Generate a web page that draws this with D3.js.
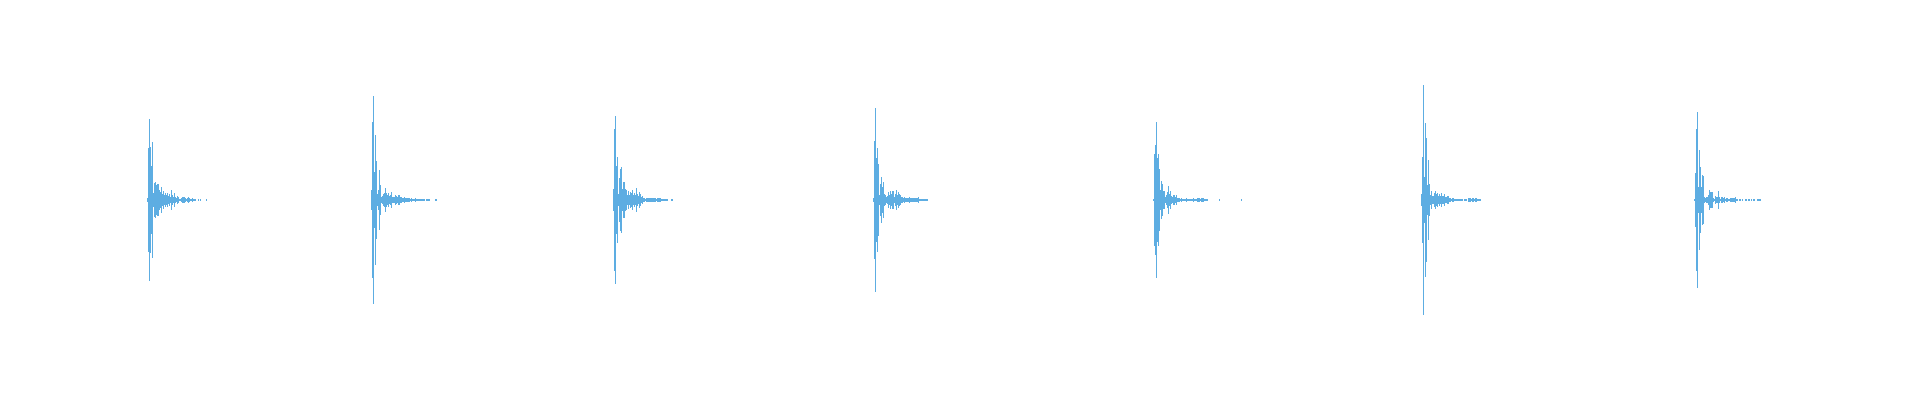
<!DOCTYPE html>
<html>
<head>
<meta charset="utf-8">
<script src="https://cdn.jsdelivr.net/npm/d3@7"></script>
<style>
  body { margin: 0; background: #fff; }
  svg { display: block; }
</style>
</head>
<body>
<div id="chart"></div>
<script>
// waveform peaks, one value per 10 ms bin, normalised to full scale (1.0)
var binSize = 0.01; // seconds
var duration = 19.2; // seconds

// onset time (s) of each hit
var onsets = [1.47, 3.71, 6.13, 8.73, 11.53, 14.21, 16.94];

var peaks1 = [0.009, 0.258, 0.405, 0.265, 0.170, 0.290, 0.035, 0.085, 0.090, 0.075, 0.080, 0.080, 0.050, 0.040, 0.065,
  0.030, 0.045, 0.025, 0.035, 0.023, 0.035, 0.018, 0.030, 0.015, 0.050, 0.023, 0.017, 0.033, 0.013, 0.010, 0.020, 0.017,
  0.007, 0.006, 0.010, 0.013, 0.014, 0.014, 0.010, 0.007, 0.010, 0.014, 0.010, 0.005, 0.003, 0.010, 0.003, 0.003, 0.003,
  0, 0, 0.003, 0, 0.003, 0, 0, 0, 0, 0, 0.003];

var peaks2 = [0.050, 0.390, 0.520, 0.140, 0.325, 0.195, 0.030, 0.050, 0.150, 0.075, 0.015, 0.020, 0.030, 0.035, 0.060,
  0.035, 0.025, 0.035, 0.020, 0.025, 0.040, 0.015, 0.015, 0.015, 0.025, 0.020, 0.015, 0.025, 0.025, 0.015, 0.015,
  0.010, 0.010, 0.015, 0.010, 0.010, 0.008, 0.010, 0.008, 0.005, 0.008, 0.005, 0.005, 0.005, 0.008, 0.005, 0.005, 0.003,
  0.005, 0.003, 0.003, 0.003, 0.003, 0.003, 0, 0.003, 0.003, 0.003, 0.003, 0, 0, 0, 0, 0, 0.003, 0.003];

var peaks3 = [0.055, 0.355, 0.420, 0.170, 0.215, 0.030, 0.110, 0.155, 0.165, 0.055, 0.090, 0.090, 0.055, 0.050, 0.025,
  0.045, 0.025, 0.040, 0.035, 0.050, 0.025, 0.035, 0.025, 0.060, 0.030, 0.020, 0.040, 0.030, 0.015, 0.020, 0.010,
  0.008, 0.005, 0.008, 0.010, 0.012, 0.010, 0.012, 0.010, 0.008, 0.012, 0.010, 0.012, 0.005, 0.008, 0.010, 0.008, 0.008,
  0.003, 0.003, 0.003, 0.003, 0.003, 0.003, 0.003, 0, 0, 0, 0.003, 0.003];

var peaks4 = [0.010, 0.295, 0.460, 0.210, 0.260, 0.180, 0.025, 0.080, 0.115, 0.065, 0.090, 0.030, 0.025, 0.015, 0.020,
  0.040, 0.025, 0.045, 0.030, 0.045, 0.045, 0.015, 0.030, 0.050, 0.025, 0.040, 0.030, 0.025, 0.015, 0.015, 0.010, 0.015,
  0.010, 0.008, 0.012, 0.010, 0.015, 0.010, 0.008, 0.012, 0.010, 0.008, 0.012, 0.010, 0.008, 0.015, 0.005, 0.005, 0.003,
  0.003, 0.003, 0.003, 0.003, 0.003, 0.003];

var peaks5 = [0.005, 0.230, 0.275, 0.390, 0.210, 0.230, 0.155, 0.050, 0.095, 0.080, 0.045, 0.045, 0.015, 0.025, 0.040,
  0.070, 0.030, 0.045, 0.020, 0.015, 0.025, 0.025, 0.015, 0.025, 0.010, 0.010, 0.010, 0.005, 0.010, 0.005,
  0.003, 0.003, 0.005, 0.010, 0.003, 0.005, 0.005, 0.005, 0.003, 0.003, 0.008, 0.003, 0.003, 0.003, 0.010, 0.012, 0.010,
  0.005, 0.010, 0.008, 0.010, 0.005, 0.003, 0.003, 0.003,
  0, 0, 0, 0, 0, 0, 0, 0, 0, 0, 0, 0.003,
  0, 0, 0, 0, 0, 0, 0, 0, 0, 0, 0, 0, 0, 0, 0, 0, 0, 0, 0, 0, 0, 0.003];

var peaks6 = [0.030, 0.215, 0.575, 0.115, 0.385, 0.310, 0.075, 0.200, 0.080, 0.025, 0.045, 0.020, 0.020, 0.035, 0.045,
  0.030, 0.035, 0.020, 0.030, 0.020, 0.035, 0.020, 0.020, 0.030, 0.015, 0.015, 0.020, 0.020, 0.010,
  0.008, 0.005, 0.008, 0.010, 0.005, 0.005, 0.003, 0.005, 0.003, 0.003, 0.003, 0.003, 0.003, 0, 0.003, 0.003, 0.003, 0,
  0.008, 0.010, 0.008, 0.005, 0.010, 0.008, 0.005, 0.010, 0.008, 0.005, 0.003, 0.003, 0.003];

var peaks7 = [0.005, 0.135, 0.355, 0.440, 0.065, 0.250, 0.165, 0.065, 0.125, 0.120, 0.015, 0.010, 0.015, 0.015, 0.025,
  0.050, 0.040, 0.040, 0.040, 0.010, 0.005, 0.020, 0.015, 0.015, 0.045, 0.015, 0.005, 0.015, 0.015, 0.010, 0.015, 0.005,
  0.010, 0.010, 0.005, 0.005, 0.010, 0.010, 0.010, 0.010, 0.010, 0.015, 0.005,
  0.003, 0, 0.003, 0.003, 0, 0.003, 0, 0, 0.003, 0.003, 0, 0.003, 0.003, 0, 0.003, 0, 0.003, 0.003, 0, 0, 0.003, 0.003,
  0.003, 0.003];

var bursts = [peaks1, peaks2, peaks3, peaks4, peaks5, peaks6, peaks7];

var width = 1920;
var height = 400;

// flatten into one table of bins
var bins = [];
bursts.forEach(function (peaks, k) {
  var start = Math.round(onsets[k] / binSize);
  peaks.forEach(function (p, i) {
    if (p > 0) bins.push({ t: (start + i) * binSize, peak: p });
  });
});

var xScale = d3.scaleLinear()
  .domain([0, duration])
  .range([0, width]);

var yScale = d3.scaleLinear()
  .domain([-1, 1])
  .range([height, 0]);

var svg = d3.select("div#chart")
  .append("svg")
  .attr("width", width)
  .attr("height", height);

svg.append("rect")
  .attr("width", width)
  .attr("height", height)
  .style("fill", "#fff");

var barWidth = xScale(binSize) - xScale(0);

svg.append("g")
  .selectAll("rect")
  .data(bins)
  .enter()
  .append("rect")
  .attr("x", function (d) { return xScale(d.t); })
  .attr("width", barWidth)
  .attr("y", function (d) {
    var h = Math.max(1, yScale(-d.peak) - yScale(d.peak));
    return yScale(0) - h / 2;
  })
  .attr("height", function (d) {
    return Math.max(1, yScale(-d.peak) - yScale(d.peak));
  })
  .style("fill", "#5dade2")
  .style("shape-rendering", "crispEdges");
</script>
</body>
</html>
